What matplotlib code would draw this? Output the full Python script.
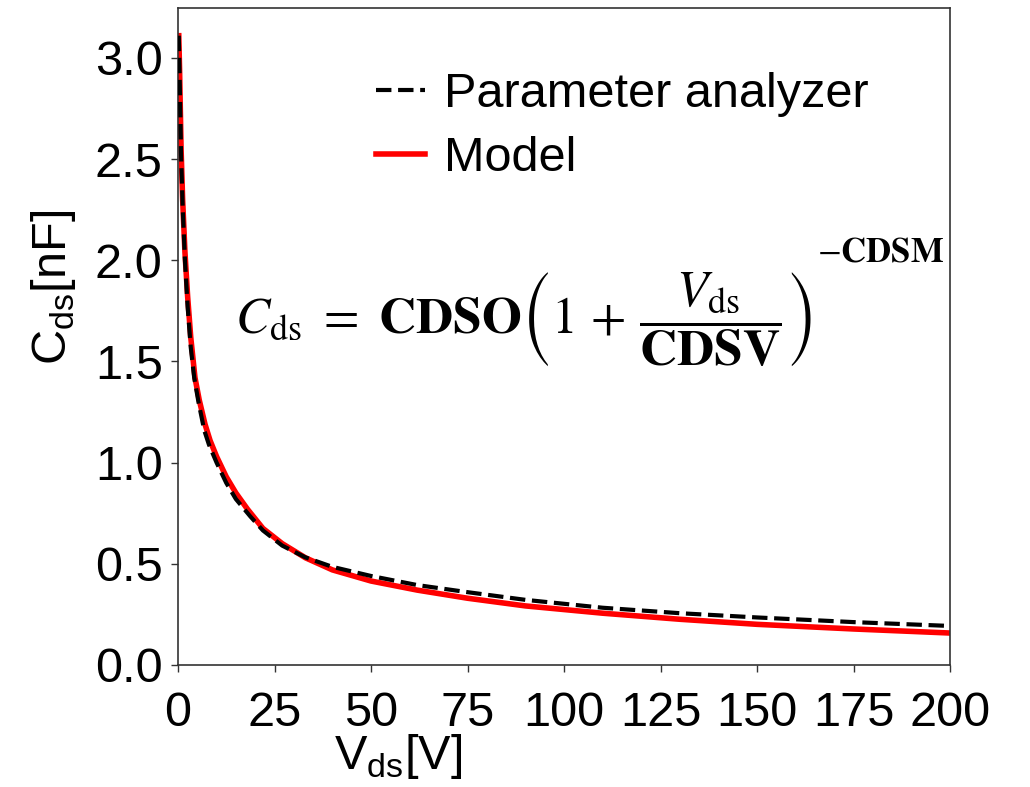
import matplotlib
matplotlib.use("Agg")
import matplotlib.pyplot as plt

# Read-off values (V in volts, C in nF)
v_meas = [0.2, 0.4, 0.8, 1.2, 1.8, 2.5, 3.3, 4.2, 5.3, 6.8, 8.0, 10, 12.5, 15, 18.7,
          22, 27, 33, 40, 50, 62, 75, 90, 110, 130, 150, 175, 200]
c_meas = [3.11, 2.93, 2.52, 2.27, 2.00, 1.77, 1.57, 1.42, 1.30, 1.16, 1.09, 1.00, 0.90,
          0.82, 0.735, 0.665, 0.59, 0.532, 0.485, 0.44, 0.395, 0.36, 0.322, 0.283, 0.256,
          0.235, 0.212, 0.193]
v_model = [0.2, 0.4, 0.8, 1.2, 1.8, 2.5, 3.3, 4.4, 5.5, 7.0, 8.3, 10, 12.5, 15, 18,
           22, 27, 33, 40, 50, 62, 75, 90, 110, 130, 150, 175, 200]
c_model = [3.11, 2.95, 2.55, 2.30, 2.04, 1.82, 1.62, 1.42, 1.31, 1.19, 1.11, 1.03, 0.93,
           0.85, 0.77, 0.675, 0.60, 0.53, 0.47, 0.415, 0.37, 0.33, 0.292, 0.256, 0.226,
           0.201, 0.178, 0.158]
x_ticks = [0, 25, 50, 75, 100, 125, 150, 175, 200]
y_ticks = [0.0, 0.5, 1.0, 1.5, 2.0, 2.5, 3.0]

plt.rcParams['font.family'] = ['Liberation Sans', 'DejaVu Sans']
FS = 35

W, H = 1030, 787
fig = plt.figure(figsize=(W / 100, H / 100), dpi=100)
ax = fig.add_axes([178 / W, 1 - 665 / H, (950 - 178) / W, (665 - 8) / H])

ax.plot(v_model, c_model, color='#ff0000', lw=4.0, label='Model', zorder=2,
        solid_joinstyle='round')
ax.plot(v_meas, c_meas, color='black', lw=3.0, ls='--', label='Parameter analyzer', zorder=3)

ax.set_xlim(0, 200)
ax.set_ylim(0, 3.247)
ax.set_xticks(x_ticks)
ax.set_yticks(y_ticks)
ax.set_xticklabels([str(t) for t in x_ticks])
ax.set_yticklabels([f"{t:.1f}" for t in y_ticks])
ax.tick_params(labelsize=FS, length=5, width=1, color='#333333')
ax.tick_params(axis='y', pad=6)
ax.tick_params(axis='x', pad=14)
for s in ax.spines.values():
    s.set_color('#333333')
    s.set_linewidth(1.2)

ax.set_xlabel(r'V$_\mathregular{ds}$[V]', fontsize=FS)
ax.set_ylabel(r'C$_\mathregular{ds}$[nF]', fontsize=FS)
ax.xaxis.set_label_coords((398 - 178) / 772, (665 - 732) / 657)
ax.yaxis.set_label_coords((78 - 178) / 772, (665 - 287) / 657)

handles, labels = ax.get_legend_handles_labels()
leg = ax.legend(handles[::-1], labels[::-1], loc='upper left',
                bbox_to_anchor=(376 / W, 1 - 72 / H), bbox_transform=fig.transFigure,
                frameon=False, fontsize=FS, handlelength=1.0, handletextpad=0.4,
                labelspacing=0.4, borderpad=0, borderaxespad=0)

fig.text(524 / W, 1 - 320 / H,
         r'$C_{\mathrm{ds}}\ =\ \mathbf{CDSO}\left(1\,+\,\dfrac{V_{\mathrm{ds}}}{\mathbf{CDSV}}\right)$',
         fontsize=37, ha='center', va='center', math_fontfamily='stix')
fig.text(817 / W, 1 - 252 / H, r'$-\mathbf{CDSM}$',
         fontsize=25, ha='left', va='center', math_fontfamily='stix')

fig.savefig('out.png', dpi=100)
